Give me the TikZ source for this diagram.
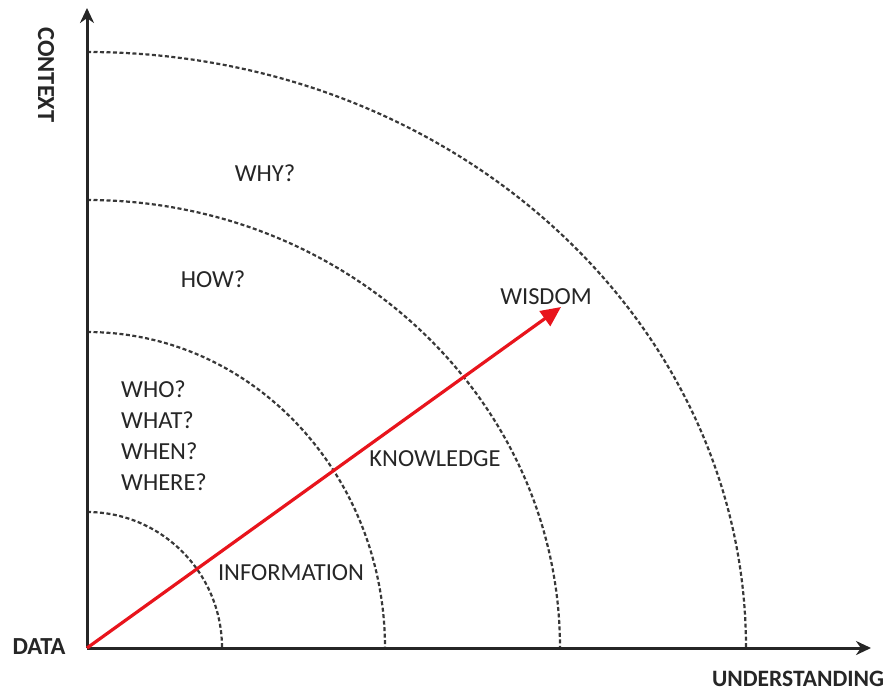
\documentclass[tikz,border=0pt]{standalone}
\usepackage{fontspec}
\setmainfont{Carlito}
\usetikzlibrary{arrows.meta}
\definecolor{txt}{HTML}{262626}
\definecolor{arcc}{HTML}{383838}
\definecolor{redarr}{HTML}{E8141C}
\tikzset{
  axis/.style={line width=3pt, black!85, -{Stealth[length=15pt,width=14pt]}},
  ring/.style={line width=2.2pt, arcc, dash pattern=on 4pt off 2.5pt},
  lbl/.style={font=\fontsize{24.5}{26}\selectfont, text=txt, inner sep=0pt},
  axlbl/.style={font=\bfseries\fontsize{24.5}{26}\selectfont, text=txt, inner sep=0pt},
  redarrow/.style={line width=3.2pt, redarr, -{Triangle[length=20pt,width=18pt]}}
}
\begin{document}
\begin{tikzpicture}[x=1pt,y=-1pt]
\useasboundingbox[fill=white] (0,0) rectangle (893,691);
\coordinate (O) at (87,648);
\coordinate (ytip) at (87,8);
\coordinate (xtip) at (871,648);
\coordinate (W) at (561,307);
% rings
\draw[ring] (O) ++(0,-136) arc[start angle=90,end angle=0,x radius=135pt,y radius=136pt];
\draw[ring] (O) ++(0,-316) arc[start angle=90,end angle=0,x radius=298pt,y radius=316pt];
\draw[ring] (O) ++(0,-448) arc[start angle=90,end angle=0,x radius=473pt,y radius=448pt];
\draw[ring] (O) ++(0,-596) arc[start angle=90,end angle=0,x radius=659pt,y radius=596pt];
% axes
\draw[axis] (O) -- (ytip);
\draw[axis] (O) -- (xtip);
% red arrow
\draw[redarrow] (O) -- (W);
% labels
\node[axlbl, rotate=-90] (context) at (46,75) {CONTEXT};
\node[axlbl] (data) at (39,647) {DATA};
\node[axlbl, font=\bfseries\fontsize{23.5}{25}\selectfont] (und) at (798,679) {UNDERSTANDING};
\node[lbl] (why) at (265,173) {WHY?};
\node[lbl] (how) at (213,279) {HOW?};
\node[lbl, anchor=west] (who) at (121,389) {WHO?};
\node[lbl, anchor=west] (what) at (121,420) {WHAT?};
\node[lbl, anchor=west] (when) at (121,451) {WHEN?};
\node[lbl, anchor=west] (where) at (121,482) {WHERE?};
\node[lbl] (wisdom) at (546,297) {WISDOM};
\node[lbl] (know) at (435,459) {KNOWLEDGE};
\node[lbl] (info) at (291,573) {INFORMATION};
\end{tikzpicture}
\end{document}
